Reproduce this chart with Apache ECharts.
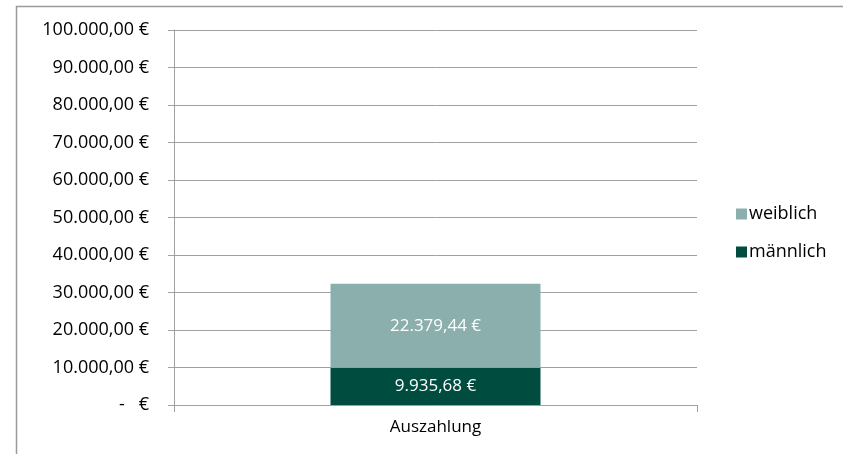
<!DOCTYPE html>
<html><head><meta charset="utf-8">
<script src="https://cdn.jsdelivr.net/npm/echarts@6/dist/echarts.min.js"></script>
<style>html,body{margin:0;padding:0;background:#fff}#c{width:843px;height:454px}</style>
</head><body><div id="c"></div>
<script>
const categories = ['Auszahlung'];
const maennlich = [9935.68];
const weiblich = [22379.44];
const seriesNames = ['männlich', 'weiblich'];
const yMin = 0, yMax = 100000, yStep = 10000;

function fmt(v) {
  if (v === 0) return '-   €';
  const parts = v.toFixed(2).split('.');
  const int = parts[0].replace(/\B(?=(\d{3})+(?!\d))/g, '.');
  return int + ',' + parts[1] + ' €';
}
const FONT = 'Open Sans';
const FS = 18;
const chart = echarts.init(document.getElementById('c'), null, {renderer: 'canvas'});
chart.setOption({
  animation: false,
  textStyle: {fontFamily: FONT},
  graphic: [{type: 'rect', shape: {x: 16.5, y: 6.5, width: 900, height: 600}, style: {fill: 'none', stroke: '#9a9a9a', lineWidth: 1.5}, silent: true}],
  grid: {left: 174, right: 146, top: 30, bottom: 49, containLabel: false},
  legend: {
    orient: 'vertical', left: 731, top: 200, itemWidth: 11, itemHeight: 11, itemGap: 20,
    icon: 'rect', data: ['weiblich', 'männlich'],
    textStyle: {fontFamily: FONT, fontSize: FS, color: '#000', padding: [0, 0, 0, -3]}
  },
  xAxis: {
    type: 'category', data: categories,
    axisLine: {lineStyle: {color: '#a0a0a0', width: 1}},
    axisTick: {show: true, alignWithLabel: false, length: 7, lineStyle: {color: '#a0a0a0'}},
    axisLabel: {color: '#000', fontSize: FS - 1, fontFamily: FONT, margin: 14}
  },
  yAxis: {
    type: 'value', min: yMin, max: yMax, interval: yStep,
    axisLine: {show: true, lineStyle: {color: '#a0a0a0', width: 1}},
    axisTick: {show: true, inside: false, length: 6, lineStyle: {color: '#a0a0a0'}},
    splitLine: {lineStyle: {color: '#a0a0a0', width: 1}},
    axisLabel: {color: '#000', fontSize: FS, fontFamily: FONT, margin: 25, formatter: fmt}
  },
  series: [
    {name: seriesNames[0], type: 'bar', stack: 's', data: maennlich, barWidth: 210,
     itemStyle: {color: '#004d40'},
     label: {show: true, position: 'inside', color: '#fff', fontSize: FS - 1, fontFamily: FONT, formatter: p => fmt(p.value)}},
    {name: seriesNames[1], type: 'bar', stack: 's', data: weiblich, barWidth: 210,
     itemStyle: {color: '#8aafad'},
     label: {show: true, position: 'inside', color: '#fff', fontSize: FS - 1, fontFamily: FONT, formatter: p => fmt(p.value)}}
  ]
});
</script></body></html>
